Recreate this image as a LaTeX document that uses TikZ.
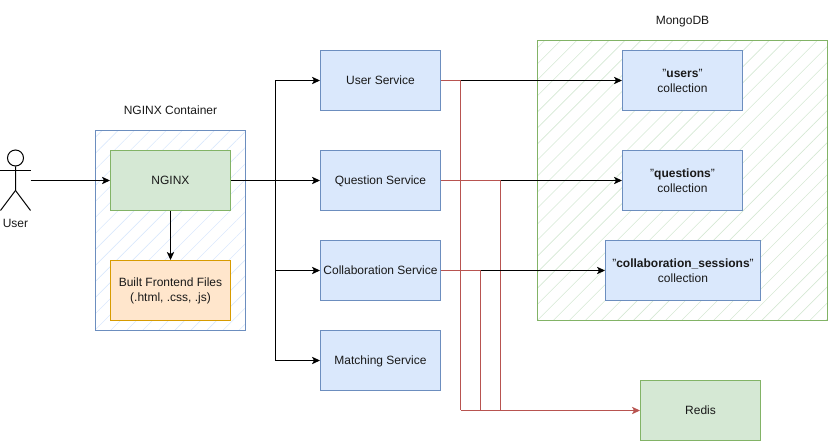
\documentclass[tikz,border=0pt]{standalone}
\usepackage{fontspec}
\setmainfont{Liberation Sans}
\usetikzlibrary{arrows.meta,patterns.meta}
\definecolor{blueline}{RGB}{108,142,191}
\definecolor{bluefill}{RGB}{218,232,252}
\definecolor{greenline}{RGB}{130,179,102}
\definecolor{greenfill}{RGB}{213,232,212}
\definecolor{orangeline}{RGB}{215,155,0}
\definecolor{orangefill}{RGB}{255,230,204}
\definecolor{redline}{RGB}{184,84,80}
\tikzset{
  every node/.style={font=\fontsize{9}{11.25}\selectfont,text=black!90,inner sep=0pt,align=center},
  oneline/.style={text height=6.6pt,text depth=0.4pt},
  blockbox/.style={draw,line width=0.75pt,minimum height=45pt,minimum width=90pt},
  bluebox/.style={blockbox,draw=blueline,fill=bluefill},
  greenbox/.style={blockbox,draw=greenline,fill=greenfill},
  orangebox/.style={blockbox,draw=orangeline,fill=orangefill},
  hatchbox/.style={draw=#1line,line width=0.75pt,pattern={Lines[angle=45,distance=8.5pt,line width=0.45pt]},pattern color=#1fill},
  link/.style={draw=black,line width=0.75pt,-{Stealth[length=6pt,width=5.5pt,inset=1.5pt]}},
  redlink/.style={draw=redline,line width=0.75pt},
  redarrow/.style={redlink,-{Stealth[length=6pt,width=5.5pt,inset=1.5pt]}},
  actorline/.style={draw=black,line width=0.75pt}
}

\begin{document}
\begin{tikzpicture}[x=0.75pt,y=0.75pt,yscale=-1,xscale=1]
\useasboundingbox (0,0) rectangle (829,441);

% containers
\draw [hatchbox=blue] (95.5,130.5) rectangle (245.5,330.5);
\draw [hatchbox=green] (537.5,40.5) rectangle (827.5,320.5);
\node (nginxlabel) [oneline] at (170.5,110) {NGINX Container};
\node (mongolabel) [oneline] at (682.5,20) {MongoDB};

% user
\node (head) [circle,draw=black,line width=0.75pt,minimum size=12pt] at (15.5,158) {};
\coordinate (hip) at (15.5,190.5);
\draw [actorline] (head.south) -- (hip) -- (0.5,210.5);
\draw [actorline] (hip) -- (30.5,210.5);
\draw [actorline] (0.5,170.5) -- (30.5,170.5);
\coordinate (userhand) at (30.5,180.5);
\node (userlabel) [oneline] at (15.5,223.5) {User};

% nodes
\node (nginx) [greenbox,oneline] at (170.5,180.5) {NGINX};
\node (frontend) [orangebox] at (170.5,290.5) {Built Frontend Files\\(.html, .css, .js)};
\node (usersvc) [bluebox,oneline] at (380.5,80.5) {User Service};
\node (questionsvc) [bluebox,oneline] at (380.5,180.5) {Question Service};
\node (collabsvc) [bluebox,oneline] at (380.5,270.5) {Collaboration Service};
\node (matchsvc) [bluebox,oneline] at (380.5,360.5) {Matching Service};
\node (users) [bluebox] at (682.5,80.5) {"\textbf{users}"\\collection};
\node (questions) [bluebox] at (682.5,180.5) {"\textbf{questions}"\\collection};
\node (sessions) [bluebox,minimum width=116.25pt] at (683,270.5) {"\textbf{collaboration\_sessions}"\\collection};
\node (redis) [greenbox,oneline] at (700.5,410.5) {Redis};

% junctions
\coordinate (spine) at (275.5,180.5);
\coordinate (userfork) at (460.5,80.5);
\coordinate (questionfork) at (500.5,180.5);
\coordinate (collabfork) at (480.5,270.5);
\coordinate (redisbus) at (460.5,410.5);

% red lines first
\draw [redlink] (usersvc.east) -- (userfork) -- (redisbus);
\draw [redlink] (questionsvc.east) -- (questionfork) -- (questionfork |- redis.west);
\draw [redlink] (collabsvc.east) -- (collabfork) -- (collabfork |- redis.west);
\draw [redarrow] (redisbus) -- (redis.west);

% black lines
\draw [link] (userhand) -- (nginx.west);
\draw [link] (nginx.south) -- (frontend.north);
\draw [link] (nginx.east) -- (questionsvc.west);
\draw [link] (spine) |- (usersvc.west);
\draw [link] (spine) |- (collabsvc.west);
\draw [link] (spine) |- (matchsvc.west);
\draw [link] (userfork) -- (users.west);
\draw [link] (questionfork) -- (questions.west);
\draw [link] (collabfork) -- (sessions.west);

\end{tikzpicture}
\end{document}
